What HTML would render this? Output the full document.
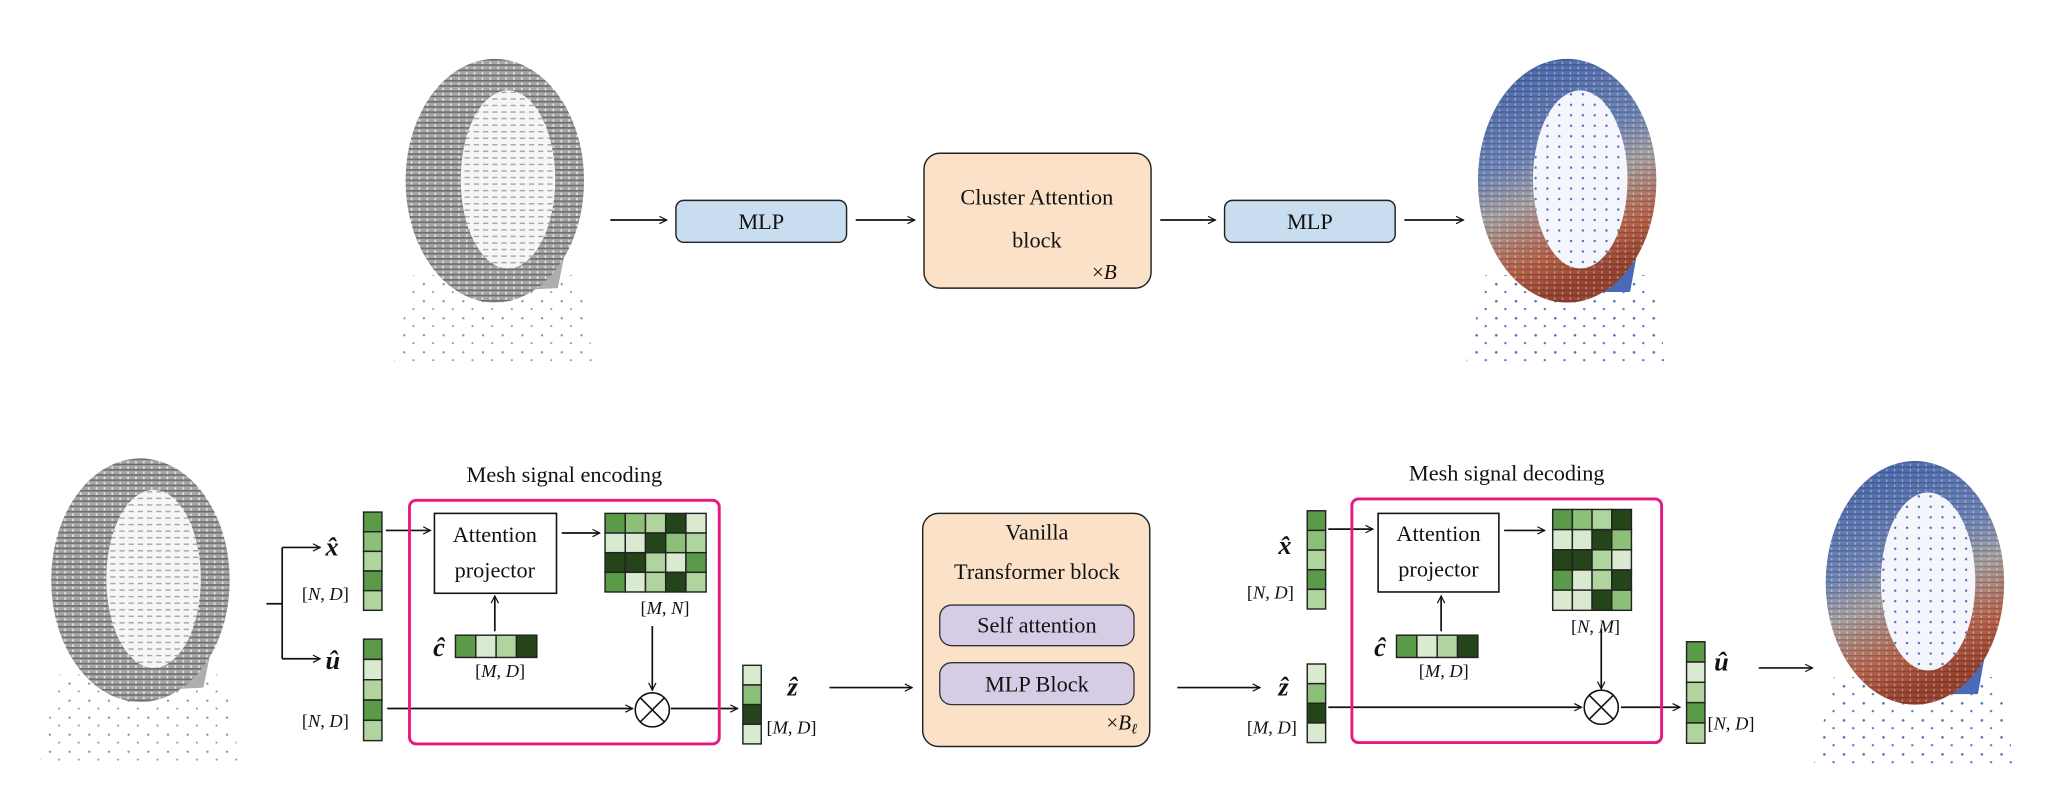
<!DOCTYPE html>
<html><head><meta charset="utf-8"><style>
html,body{margin:0;padding:0;background:#fff;}
svg{display:block;}
text{font-family:"Liberation Serif","DejaVu Serif",serif;fill:#111;}
.m{font-style:italic;}
</style></head><body>
<svg width="2058" height="812" viewBox="0 0 1568 620" preserveAspectRatio="none" xmlns="http://www.w3.org/2000/svg">
<defs>
<marker id="ar" viewBox="0 0 10 10" refX="9" refY="5" markerWidth="7" markerHeight="7" orient="auto" markerUnits="userSpaceOnUse"><path d="M1,1 L9,5 L1,9" fill="none" stroke="#111" stroke-width="1.3"/></marker>
<pattern id="st" width="6" height="4" patternUnits="userSpaceOnUse"><rect width="6" height="4" fill="#a6a6a6"/><rect y="0" width="6" height="1.3" fill="#6e6e6e"/><rect x="2" y="2" width="1.2" height="2" fill="#e8e8e8"/></pattern>
<pattern id="sti" width="7" height="5" patternUnits="userSpaceOnUse"><rect width="7" height="5" fill="#f6f6f6"/><rect y="0" width="4" height="1.1" fill="#a8a8a8"/></pattern>
<pattern id="dg" width="15" height="13" patternUnits="userSpaceOnUse"><circle cx="3" cy="3" r="0.9" fill="#8a8a8a"/><circle cx="10" cy="9" r="0.8" fill="#9a9a9a"/></pattern>
<pattern id="db" width="15" height="13" patternUnits="userSpaceOnUse"><circle cx="3" cy="3" r="1" fill="#4a6ab8"/><circle cx="10" cy="9" r="0.9" fill="#5a78c0"/></pattern>
<pattern id="dbi" width="9" height="8" patternUnits="userSpaceOnUse"><circle cx="3" cy="3" r="0.9" fill="#4a6ab8"/></pattern>
<pattern id="stw" width="6" height="4" patternUnits="userSpaceOnUse"><rect y="0" width="6" height="1.2" fill="#000" opacity="0.18"/><rect x="2" y="2" width="1" height="2" fill="#fff" opacity="0.4"/></pattern>
<linearGradient id="cg" x1="0" y1="0" x2="0.3" y2="1"><stop offset="0" stop-color="#4262aa"/><stop offset="0.45" stop-color="#7086b8"/><stop offset="0.62" stop-color="#a8a2a4"/><stop offset="0.85" stop-color="#b8654c"/><stop offset="1" stop-color="#9a4532"/></linearGradient>
<g id="ringG">
<polygon points="10,165 135,165 148,232 -5,232" fill="url(#dg)"/>
<path d="M50,150 L125,150 L120,175 L60,178 Z" fill="#9a9a9a" opacity="0.8"/>
<ellipse cx="72" cy="93" rx="68" ry="93" fill="url(#st)"/>
<ellipse cx="82" cy="92" rx="36" ry="68" fill="url(#sti)"/>
</g>
<g id="ringC">
<polygon points="10,165 135,165 148,232 -5,232" fill="url(#db)"/>
<path d="M50,150 L125,150 L120,178 L60,178 Z" fill="#4a6ab8"/>
<ellipse cx="72" cy="93" rx="68" ry="93" fill="url(#cg)"/>
<ellipse cx="72" cy="93" rx="68" ry="93" fill="url(#stw)"/>
<ellipse cx="82" cy="92" rx="36" ry="68" fill="#f4f6fb"/>
<ellipse cx="82" cy="92" rx="36" ry="68" fill="url(#dbi)"/>
</g>
</defs>

<!-- TOP ROW -->
<use href="#ringG" x="305" y="45"/>
<use href="#ringC" x="1122" y="45"/>
<g stroke="#111" stroke-width="1.3" fill="none" marker-end="url(#ar)">
<line x1="465" y1="168" x2="508" y2="168"/>
<line x1="652" y1="168" x2="697" y2="168"/>
<line x1="884" y1="168" x2="926" y2="168"/>
<line x1="1070" y1="168" x2="1115" y2="168"/>
</g>
<rect x="515" y="153" width="130" height="32" rx="6" fill="#c9ddf0" stroke="#222" stroke-width="1.1"/>
<text x="580" y="175" text-anchor="middle" font-size="17">MLP</text>
<rect x="933" y="153" width="130" height="32" rx="6" fill="#c9ddf0" stroke="#222" stroke-width="1.1"/>
<text x="998" y="175" text-anchor="middle" font-size="17">MLP</text>
<rect x="704" y="117" width="173" height="103" rx="12" fill="#fbe1c7" stroke="#222" stroke-width="1.1"/>
<text x="790" y="156" text-anchor="middle" font-size="17">Cluster Attention</text>
<text x="790" y="189" text-anchor="middle" font-size="17">block</text>
<text x="832" y="213" font-size="16">×<tspan class="m">B</tspan></text>

<!-- BOTTOM ROW -->
<use href="#ringG" x="35" y="350"/>
<use href="#ringC" x="1387" y="352"/>

<!-- encoding -->
<g stroke="#111" stroke-width="1.3" fill="none">
<line x1="203" y1="461" x2="215" y2="461"/>
<line x1="215" y1="418" x2="215" y2="503"/>
<line x1="215" y1="418" x2="244" y2="418" marker-end="url(#ar)"/>
<line x1="215" y1="503" x2="244" y2="503" marker-end="url(#ar)"/>
<line x1="294" y1="405" x2="328" y2="405" marker-end="url(#ar)"/>
<line x1="428" y1="407" x2="457" y2="407" marker-end="url(#ar)"/>
<line x1="497" y1="478" x2="497" y2="527" marker-end="url(#ar)"/>
<line x1="377" y1="482" x2="377" y2="455" marker-end="url(#ar)"/>
<line x1="295" y1="541" x2="482" y2="541" marker-end="url(#ar)"/>
<line x1="511" y1="541" x2="562" y2="541" marker-end="url(#ar)"/>
<line x1="632" y1="525" x2="695" y2="525" marker-end="url(#ar)"/>
</g>
<rect x="312" y="382" width="236" height="186" rx="5" fill="none" stroke="#e5197f" stroke-width="2.2"/>
<text x="430" y="368" text-anchor="middle" font-size="17">Mesh signal encoding</text>
<rect x="331" y="392" width="93" height="61" fill="#fff" stroke="#111" stroke-width="1.2"/>
<text x="377" y="414" text-anchor="middle" font-size="17">Attention</text>
<text x="377" y="441" text-anchor="middle" font-size="17">projector</text>
<circle cx="497" cy="542" r="13" fill="#fff" stroke="#111" stroke-width="1.2"/>
<path d="M488,533 L506,551 M506,533 L488,551" stroke="#111" stroke-width="1.2"/>

<g stroke="#222" stroke-width="1.1">
<rect x="277" y="391" width="14" height="15" fill="#5b9a48"/><rect x="277" y="406" width="14" height="15" fill="#8cbf77"/><rect x="277" y="421" width="14" height="15" fill="#b0d49e"/><rect x="277" y="436" width="14" height="15" fill="#5b9a48"/><rect x="277" y="451" width="14" height="15" fill="#b0d49e"/>
<rect x="277" y="488" width="14" height="15.5" fill="#5b9a48"/><rect x="277" y="503.5" width="14" height="15.5" fill="#d9ead0"/><rect x="277" y="519" width="14" height="15.5" fill="#b0d49e"/><rect x="277" y="534.5" width="14" height="15.5" fill="#5b9a48"/><rect x="277" y="550" width="14" height="15.5" fill="#b0d49e"/>
<rect x="347" y="485" width="15.5" height="17" fill="#5b9a48"/><rect x="362.5" y="485" width="15.5" height="17" fill="#d9ead0"/><rect x="378" y="485" width="15.5" height="17" fill="#b0d49e"/><rect x="393.5" y="485" width="15.5" height="17" fill="#24441a"/>
<rect x="461" y="392" width="15.4" height="15" fill="#5b9a48"/><rect x="476.4" y="392" width="15.4" height="15" fill="#8cbf77"/><rect x="491.8" y="392" width="15.4" height="15" fill="#b0d49e"/><rect x="507.2" y="392" width="15.4" height="15" fill="#24441a"/><rect x="522.6" y="392" width="15.4" height="15" fill="#d9ead0"/>
<rect x="461" y="407" width="15.4" height="15" fill="#d9ead0"/><rect x="476.4" y="407" width="15.4" height="15" fill="#d9ead0"/><rect x="491.8" y="407" width="15.4" height="15" fill="#24441a"/><rect x="507.2" y="407" width="15.4" height="15" fill="#8cbf77"/><rect x="522.6" y="407" width="15.4" height="15" fill="#b0d49e"/>
<rect x="461" y="422" width="15.4" height="15" fill="#24441a"/><rect x="476.4" y="422" width="15.4" height="15" fill="#24441a"/><rect x="491.8" y="422" width="15.4" height="15" fill="#b0d49e"/><rect x="507.2" y="422" width="15.4" height="15" fill="#d9ead0"/><rect x="522.6" y="422" width="15.4" height="15" fill="#5b9a48"/>
<rect x="461" y="437" width="15.4" height="15" fill="#5b9a48"/><rect x="476.4" y="437" width="15.4" height="15" fill="#d9ead0"/><rect x="491.8" y="437" width="15.4" height="15" fill="#b0d49e"/><rect x="507.2" y="437" width="15.4" height="15" fill="#24441a"/><rect x="522.6" y="437" width="15.4" height="15" fill="#b0d49e"/>
<rect x="566" y="508" width="14" height="15" fill="#d9ead0"/><rect x="566" y="523" width="14" height="15" fill="#8cbf77"/><rect x="566" y="538" width="14" height="15" fill="#24441a"/><rect x="566" y="553" width="14" height="15" fill="#d9ead0"/>
</g>
<text x="248" y="424" font-size="20" class="m" font-weight="bold">x̂</text>
<text x="248" y="511" font-size="20" class="m" font-weight="bold">û</text>
<text x="330" y="501" font-size="20" class="m" font-weight="bold">ĉ</text>
<text x="600" y="531" font-size="20" class="m" font-weight="bold">ẑ</text>
<text x="230" y="458" font-size="14">[<tspan class="m">N</tspan>, <tspan class="m">D</tspan>]</text>
<text x="230" y="555" font-size="14">[<tspan class="m">N</tspan>, <tspan class="m">D</tspan>]</text>
<text x="488" y="469" font-size="14">[<tspan class="m">M</tspan>, <tspan class="m">N</tspan>]</text>
<text x="362" y="517" font-size="14">[<tspan class="m">M</tspan>, <tspan class="m">D</tspan>]</text>
<text x="584" y="560" font-size="14">[<tspan class="m">M</tspan>, <tspan class="m">D</tspan>]</text>

<!-- transformer -->
<rect x="703" y="392" width="173" height="178" rx="12" fill="#fbe1c7" stroke="#222" stroke-width="1.1"/>
<text x="790" y="412" text-anchor="middle" font-size="17">Vanilla</text>
<text x="790" y="442" text-anchor="middle" font-size="17">Transformer block</text>
<rect x="716" y="462" width="148" height="31" rx="9" fill="#d6cce6" stroke="#333" stroke-width="1"/>
<text x="790" y="483" text-anchor="middle" font-size="17">Self attention</text>
<rect x="716" y="506" width="148" height="32" rx="9" fill="#d6cce6" stroke="#333" stroke-width="1"/>
<text x="790" y="528" text-anchor="middle" font-size="17">MLP Block</text>
<text x="843" y="557" font-size="16">×<tspan class="m">B</tspan><tspan class="m" font-size="11" dy="3">ℓ</tspan></text>

<!-- decoding -->
<g stroke="#111" stroke-width="1.3" fill="none">
<line x1="897" y1="525" x2="960" y2="525" marker-end="url(#ar)"/>
<line x1="1012" y1="404" x2="1046" y2="404" marker-end="url(#ar)"/>
<line x1="1146" y1="405" x2="1177" y2="405" marker-end="url(#ar)"/>
<line x1="1220" y1="480" x2="1220" y2="526" marker-end="url(#ar)"/>
<line x1="1098" y1="482" x2="1098" y2="455" marker-end="url(#ar)"/>
<line x1="1012" y1="540" x2="1205" y2="540" marker-end="url(#ar)"/>
<line x1="1235" y1="540" x2="1280" y2="540" marker-end="url(#ar)"/>
<line x1="1340" y1="510" x2="1381" y2="510" marker-end="url(#ar)"/>
</g>
<rect x="1030" y="381" width="236" height="186" rx="5" fill="none" stroke="#e5197f" stroke-width="2.2"/>
<text x="1148" y="367" text-anchor="middle" font-size="17">Mesh signal decoding</text>
<rect x="1050" y="392" width="92" height="60" fill="#fff" stroke="#111" stroke-width="1.2"/>
<text x="1096" y="413" text-anchor="middle" font-size="17">Attention</text>
<text x="1096" y="440" text-anchor="middle" font-size="17">projector</text>
<circle cx="1220" cy="540" r="13" fill="#fff" stroke="#111" stroke-width="1.2"/>
<path d="M1211,531 L1229,549 M1229,531 L1211,549" stroke="#111" stroke-width="1.2"/>
<g stroke="#222" stroke-width="1.1">
<rect x="996" y="390" width="14" height="15" fill="#5b9a48"/><rect x="996" y="405" width="14" height="15" fill="#8cbf77"/><rect x="996" y="420" width="14" height="15" fill="#b0d49e"/><rect x="996" y="435" width="14" height="15" fill="#5b9a48"/><rect x="996" y="450" width="14" height="15" fill="#b0d49e"/>
<rect x="996" y="507" width="14" height="15" fill="#d9ead0"/><rect x="996" y="522" width="14" height="15" fill="#8cbf77"/><rect x="996" y="537" width="14" height="15" fill="#24441a"/><rect x="996" y="552" width="14" height="15" fill="#d9ead0"/>
<rect x="1064" y="485" width="15.5" height="17" fill="#5b9a48"/><rect x="1079.5" y="485" width="15.5" height="17" fill="#d9ead0"/><rect x="1095" y="485" width="15.5" height="17" fill="#b0d49e"/><rect x="1110.5" y="485" width="15.5" height="17" fill="#24441a"/>
<rect x="1183" y="389" width="15" height="15.4" fill="#5b9a48"/><rect x="1198" y="389" width="15" height="15.4" fill="#8cbf77"/><rect x="1213" y="389" width="15" height="15.4" fill="#b0d49e"/><rect x="1228" y="389" width="15" height="15.4" fill="#24441a"/>
<rect x="1183" y="404.4" width="15" height="15.4" fill="#d9ead0"/><rect x="1198" y="404.4" width="15" height="15.4" fill="#d9ead0"/><rect x="1213" y="404.4" width="15" height="15.4" fill="#24441a"/><rect x="1228" y="404.4" width="15" height="15.4" fill="#8cbf77"/>
<rect x="1183" y="419.8" width="15" height="15.4" fill="#24441a"/><rect x="1198" y="419.8" width="15" height="15.4" fill="#24441a"/><rect x="1213" y="419.8" width="15" height="15.4" fill="#b0d49e"/><rect x="1228" y="419.8" width="15" height="15.4" fill="#d9ead0"/>
<rect x="1183" y="435.2" width="15" height="15.4" fill="#5b9a48"/><rect x="1198" y="435.2" width="15" height="15.4" fill="#d9ead0"/><rect x="1213" y="435.2" width="15" height="15.4" fill="#b0d49e"/><rect x="1228" y="435.2" width="15" height="15.4" fill="#24441a"/>
<rect x="1183" y="450.6" width="15" height="15.4" fill="#d9ead0"/><rect x="1198" y="450.6" width="15" height="15.4" fill="#d9ead0"/><rect x="1213" y="450.6" width="15" height="15.4" fill="#24441a"/><rect x="1228" y="450.6" width="15" height="15.4" fill="#8cbf77"/>
<rect x="1285" y="490" width="14" height="15.5" fill="#5b9a48"/><rect x="1285" y="505.5" width="14" height="15.5" fill="#d9ead0"/><rect x="1285" y="521" width="14" height="15.5" fill="#b0d49e"/><rect x="1285" y="536.5" width="14" height="15.5" fill="#5b9a48"/><rect x="1285" y="552" width="14" height="15.5" fill="#b0d49e"/>
</g>
<text x="974" y="423" font-size="20" class="m" font-weight="bold">x̂</text>
<text x="974" y="531" font-size="20" class="m" font-weight="bold">ẑ</text>
<text x="1047" y="501" font-size="20" class="m" font-weight="bold">ĉ</text>
<text x="1306" y="512" font-size="20" class="m" font-weight="bold">û</text>
<text x="950" y="457" font-size="14">[<tspan class="m">N</tspan>, <tspan class="m">D</tspan>]</text>
<text x="950" y="560" font-size="14">[<tspan class="m">M</tspan>, <tspan class="m">D</tspan>]</text>
<text x="1197" y="483" font-size="14">[<tspan class="m">N</tspan>, <tspan class="m">M</tspan>]</text>
<text x="1081" y="517" font-size="14">[<tspan class="m">M</tspan>, <tspan class="m">D</tspan>]</text>
<text x="1301" y="557" font-size="14">[<tspan class="m">N</tspan>, <tspan class="m">D</tspan>]</text>
</svg>
</body></html>
